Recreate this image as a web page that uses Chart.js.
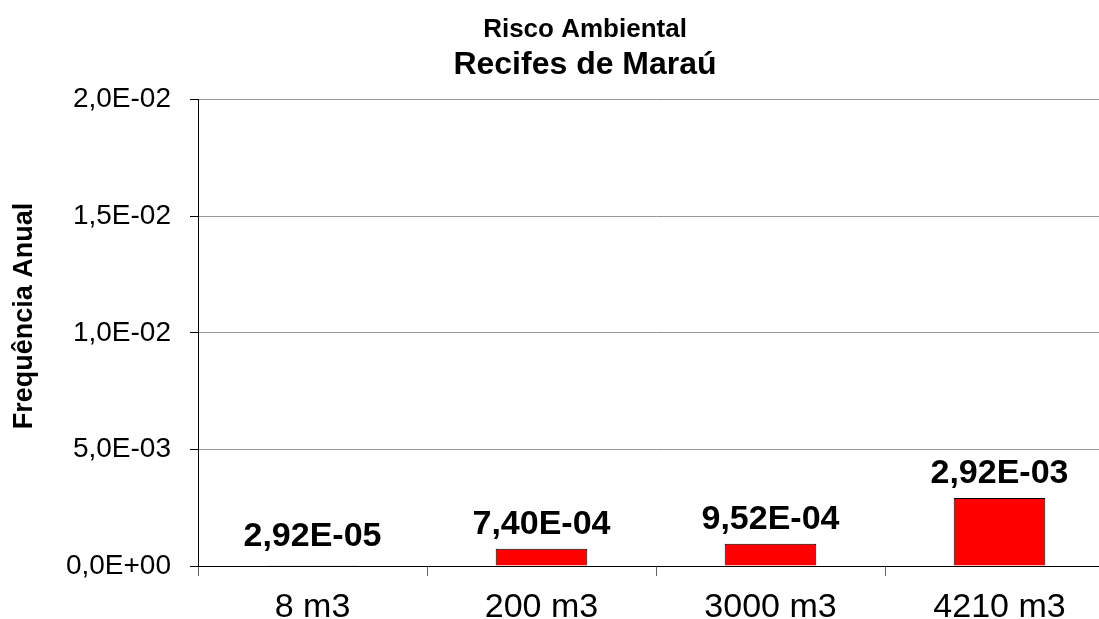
<!DOCTYPE html>
<html>
<head>
<meta charset="utf-8">
<script src="https://cdn.jsdelivr.net/npm/chart.js@4/dist/chart.umd.min.js"></script>
<style>
  html, body { margin: 0; padding: 0; background: #fff; overflow: hidden; }
  #wrap { position: relative; width: 1170px; height: 619px; }
</style>
</head>
<body>
<div id="wrap"><canvas id="c"></canvas></div>
<script>
// Annual frequency per spilled volume
const categories = ['8 m3', '200 m3', '3000 m3', '4210 m3'];
const frequencias = [2.92e-5, 7.40e-4, 9.52e-4, 2.92e-3];
const yTicks = [0, 0.005, 0.010, 0.015, 0.020];
const chartTitle = 'Risco Ambiental';
const chartSubtitle = 'Recifes de Maraú';
const yAxisTitle = 'Frequência Anual';

const FONT = '"Liberation Sans", Arial, Helvetica, sans-serif';

// Scientific notation with decimal comma and a two-digit exponent, e.g. 2,92E-05
function sci(v, digits) {
  const [m, e] = Number(v).toExponential(digits).split('e');
  const n = parseInt(e, 10);
  return m.replace('.', ',') + 'E' + (n < 0 ? '-' : '+') + String(Math.abs(n)).padStart(2, '0');
}

// Value written above each bar, keeping some clearance above the axis line
const valueLabels = {
  id: 'valueLabels',
  afterDatasetsDraw(chart) {
    const ctx = chart.ctx;
    const meta = chart.getDatasetMeta(0);
    const values = chart.data.datasets[0].data;
    const base = chart.scales.y.getPixelForValue(0);
    ctx.save();
    ctx.font = 'bold 34px ' + FONT;
    ctx.fillStyle = '#000';
    ctx.textAlign = 'center';
    ctx.textBaseline = 'alphabetic';
    meta.data.forEach((bar, i) => {
      const y = Math.min(bar.y - 15, base - 20);
      ctx.fillText(sci(values[i], 2), bar.x, y);
    });
    ctx.restore();
  }
};

// Vertical axis title, placed a little above the middle of the plot
const sideTitle = {
  id: 'sideTitle',
  afterDraw(chart) {
    const ctx = chart.ctx;
    ctx.save();
    ctx.translate(25, 316);
    ctx.rotate(-Math.PI / 2);
    ctx.font = 'bold 27px ' + FONT;
    ctx.fillStyle = '#000';
    ctx.textAlign = 'center';
    ctx.textBaseline = 'middle';
    ctx.fillText(yAxisTitle, 0, 0);
    ctx.restore();
  }
};

new Chart(document.getElementById('c'), {
  type: 'bar',
  data: {
    labels: categories,
    datasets: [{
      data: frequencias,
      backgroundColor: '#FF0000',
      borderColor: '#000000',
      borderWidth: 1,
      categoryPercentage: 1.0,
      barPercentage: 0.4
    }]
  },
  options: {
    responsive: true,
    maintainAspectRatio: false,
    animation: false,
    events: [],
    layout: { padding: { left: 56, right: 56, top: 0, bottom: 0 } },
    plugins: {
      legend: { display: false },
      tooltip: { enabled: false },
      title: {
        display: true,
        text: chartTitle,
        color: '#000',
        font: { family: FONT, size: 26, weight: 'bold' },
        padding: { top: 14, bottom: 0 }
      },
      subtitle: {
        display: true,
        text: chartSubtitle,
        color: '#000',
        font: { family: FONT, size: 32, weight: 'bold' },
        padding: { top: 1, bottom: 15 }
      }
    },
    scales: {
      x: {
        grid: {
          display: true,
          drawOnChartArea: false,
          offset: true,
          tickLength: 10,
          tickColor: '#666',
          tickWidth: 1
        },
        border: { color: '#000', width: 1 },
        ticks: {
          color: '#000',
          font: { family: FONT, size: 34 },
          padding: 11,
          maxRotation: 0,
          autoSkip: false
        },
        afterFit(s) { s.height = 53; }
      },
      y: {
        min: 0,
        max: 0.02,
        grid: {
          color: '#999',
          lineWidth: 1,
          tickColor: '#000',
          tickLength: 8
        },
        border: { color: '#000', width: 1 },
        ticks: {
          color: '#000',
          font: { family: FONT, size: 28 },
          padding: 19,
          callback: v => sci(v, 1)
        },
        afterBuildTicks(s) { s.ticks = yTicks.map(v => ({ value: v })); },
        afterFit(s) { s.width = 142; }
      }
    }
  },
  plugins: [valueLabels, sideTitle]
});
</script>
</body>
</html>
